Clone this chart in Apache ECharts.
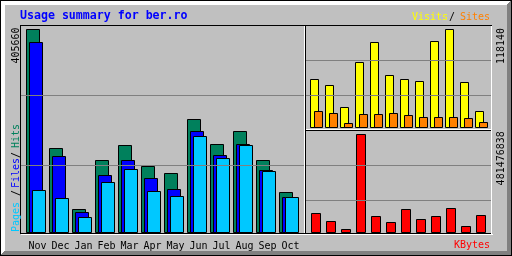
<!DOCTYPE html>
<html><head><meta charset="utf-8">
<script src="https://cdn.jsdelivr.net/npm/echarts@6/dist/echarts.min.js"></script>
<style>html,body{margin:0;padding:0;background:#c0c0c0}#c{width:512px;height:256px}</style>
</head><body><div id="c"></div>
<script>
const months = ['Nov','Dec','Jan','Feb','Mar','Apr','May','Jun','Jul','Aug','Sep','Oct'];
const hits   = [405660,167860,45960,143880,173850,131890,117900,225810,175850,201830,143880,79930];
const files  = [379680,151870,39970,113900,143880,107910,85930,201830,153870,175850,123900,69940];
const pages  = [83930,67940,29970,99920,125890,81930,71940,191840,147880,173850,121900,69940];
const visits = [57860,50630,24110,78360,102470,62690,57860,55450,103670,118140,54250,19290];
const sites  = [19290,16880,4820,15670,15670,16880,14470,12060,12060,12060,10850,6030];
const kbytes = [93350000,54040000,14740000,481476838,78610000,49130000,113000000,63870000,78610000,117910000,29480000,83520000];
const hitsMax = 405660, visitsMax = 118140, kbytesMax = 481476838;

const C = {grey:'#c0c0c0', dk:'#808080', black:'#000000', white:'#ffffff', green:'#00805c',
  orange:'#ff8000', blue:'#0000ff', red:'#ff0000', cyan:'#00c8ff', yellow:'#ffff00'};
const MONO = 'DejaVu Sans Mono';

function barSeries(data, idx, offset, width, color) {
  return {
    type: 'custom', xAxisIndex: idx, yAxisIndex: idx, animation: false,
    data: data.map((v, i) => [i, v]),
    encode: {x: 0, y: 1},
    renderItem(params, api) {
      const top = api.coord([api.value(0), api.value(1)]);
      const base = api.coord([api.value(0), 0]);
      const band = api.size([1, 0])[0];
      const x1 = Math.round(top[0] - band / 2) + offset;
      const y1 = Math.round(top[1]);
      const yb = Math.round(base[1]);
      return {type: 'rect', shape: {x: x1 + 0.5, y: y1 + 0.5, width: width, height: yb - y1},
        style: {fill: color, stroke: C.black, lineWidth: 1}};
    }
  };
}

const G = [];
function hl(x1, x2, y, c, z) { G.push({type:'rect', z: z||10, shape:{x:x1, y:y, width:x2-x1+1, height:1}, style:{fill:c}}); }
function vl(x, y1, y2, c, z) { G.push({type:'rect', z: z||10, shape:{x:x, y:y1, width:1, height:y2-y1+1}, style:{fill:c}}); }
function txt(s, x, y, color, opts) {
  opts = opts || {};
  G.push({type:'text', z: 20, x: x, y: y, rotation: opts.rot || 0,
    style: {text: s, fill: color, font: (opts.bold ? 'bold ' : '') + (opts.size || 10) + 'px "' + MONO + '"',
      textAlign: opts.align || 'left', textVerticalAlign: 'middle',
      textShadowColor: opts.shadow ? C.dk : 'transparent', textShadowOffsetX: opts.shadow ? 1 : 0,
      textShadowOffsetY: opts.shadow ? 1 : 0, textShadowBlur: 0}});
}

// outer border + shadow
hl(0,511,0,C.black); hl(0,511,255,C.black); vl(0,0,255,C.black); vl(511,0,255,C.black);
for (let i = 1; i < 5; i++) {
  hl(i, 510 - i, i, C.white); vl(i, i, 254 - i, C.white);
  hl(i, 511 - i, 255 - i, C.dk); vl(511 - i, i, 255 - i, C.dk);
}
// grid lines (behind bars)
hl(21,303,95,C.dk,0); hl(21,303,165,C.dk,0);
hl(306,490,60,C.dk,0); hl(306,490,95,C.dk,0); hl(306,490,165,C.dk,0); hl(306,490,200,C.dk,0);
// inner box
hl(20,491,25,C.black); vl(20,25,233,C.black); hl(20,491,233,C.black);
hl(21,492,234,C.white); vl(491,26,234,C.white);
// section lines
vl(305,25,233,C.black); vl(304,26,232,C.white);
hl(305,490,130,C.black); hl(306,490,129,C.white);

// texts
txt('Usage summary for ber.ro', 20, 15.8, C.blue, {bold: true, size: 11.6});
txt('Visits', 412, 17.6, C.yellow, {shadow: true});
txt('/', 449, 17.6, C.black, {shadow: true});
txt('Sites', 460, 17.6, C.orange, {shadow: true});
txt('KBytes', 490, 245.5, C.red, {shadow: true, align: 'right'});
txt(String(hitsMax), 16, 45.5, C.black, {rot: Math.PI/2, align: 'center'});
txt(String(visitsMax), 501, 46, C.black, {rot: Math.PI/2, align: 'center'});
txt(String(kbytesMax), 501, 158.3, C.black, {rot: Math.PI/2, align: 'center'});
txt('Pages', 16, 217, C.cyan, {rot: Math.PI/2, align: 'center', shadow: true});
txt('/', 16, 193, C.black, {rot: Math.PI/2, align: 'center', shadow: true});
txt('Files', 16, 173, C.blue, {rot: Math.PI/2, align: 'center', shadow: true});
txt('/', 16, 155, C.black, {rot: Math.PI/2, align: 'center', shadow: true});
txt('Hits', 16, 136, C.green, {rot: Math.PI/2, align: 'center', shadow: true});

const hidden = {show: false};
const option = {
  animation: false,
  backgroundColor: C.grey,
  grid: [
    {left: 26, top: 29, width: 276, height: 203, outerBoundsMode: 'none'},
    {left: 310, top: 29, width: 180, height: 98, outerBoundsMode: 'none'},
    {left: 311, top: 134, width: 180, height: 98, outerBoundsMode: 'none'}
  ],
  xAxis: [
    {type: 'category', gridIndex: 0, data: months, boundaryGap: true,
      axisLine: hidden, axisTick: hidden, splitLine: hidden,
      axisLabel: {show: true, interval: 0, color: C.black, fontFamily: MONO, fontSize: 10, lineHeight: 10, margin: 9}},
    {type: 'category', gridIndex: 1, data: months, show: false},
    {type: 'category', gridIndex: 2, data: months, show: false}
  ],
  yAxis: [
    {type: 'value', gridIndex: 0, min: 0, max: hitsMax, show: false, splitLine: hidden},
    {type: 'value', gridIndex: 1, min: 0, max: visitsMax, show: false, splitLine: hidden},
    {type: 'value', gridIndex: 2, min: 0, max: kbytesMax, show: false, splitLine: hidden}
  ],
  series: [
    barSeries(hits, 0, 0, 13, C.green),
    barSeries(files, 0, 3, 13, C.blue),
    barSeries(pages, 0, 6, 13, C.cyan),
    barSeries(visits, 1, 0, 8, C.yellow),
    barSeries(sites, 1, 4, 8, C.orange),
    barSeries(kbytes, 2, 0, 9, C.red)
  ],
  graphic: G
};
const chart = echarts.init(document.getElementById('c'), null, {renderer: 'canvas'});
chart.setOption(option);
</script></body></html>
